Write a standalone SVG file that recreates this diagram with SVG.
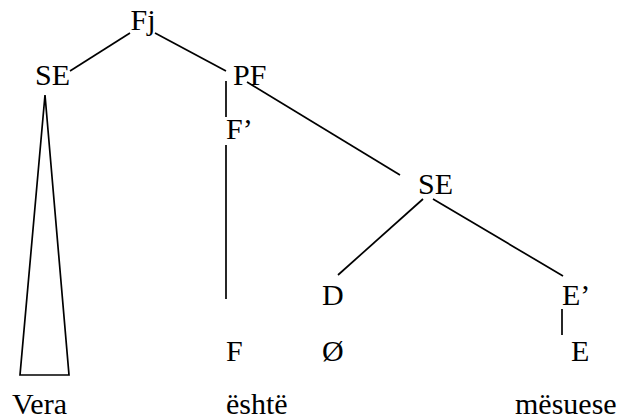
<svg xmlns="http://www.w3.org/2000/svg" width="622" height="419" viewBox="0 0 622 419">
<style>
text{font-family:'Liberation Serif','Times New Roman','DejaVu Serif',serif;font-size:30px;fill:#000}
.e{stroke:#000;stroke-width:1.7;fill:none}
</style>
<rect width="622" height="419" fill="#fff"/>
<g id="connectors">
<line class="e" x1="130" y1="33" x2="70" y2="71"/>
<line class="e" x1="155" y1="33" x2="226" y2="71"/>
<line class="e" x1="226" y1="81" x2="226" y2="117"/>
<line class="e" x1="226" y1="145" x2="226" y2="299"/>
<line class="e" x1="247" y1="82" x2="400" y2="175"/>
<line class="e" x1="423" y1="199" x2="338" y2="275"/>
<line class="e" x1="433" y1="199" x2="563" y2="276"/>
<line class="e" x1="562" y1="309" x2="562" y2="335"/>
<polygon class="e" points="45,95 20,375 69,375"/>
</g>
<g id="n-Fj"><text x="130.5" y="30" font-family="Liberation Serif">Fj</text></g>
<g id="n-SE1"><text x="35" y="85" font-family="Liberation Serif">SE</text></g>
<g id="n-PF"><text x="233" y="85" font-family="Liberation Serif">PF</text></g>
<g id="n-Fbar"><text x="226" y="139" font-family="Liberation Serif">F’</text></g>
<g id="n-SE2"><text x="418" y="194" font-family="Liberation Serif">SE</text></g>
<g id="n-D"><text x="322" y="305" font-family="Liberation Serif">D</text></g>
<g id="n-Ebar"><text x="562" y="305" font-family="Liberation Serif">E’</text></g>
<g id="n-F"><text x="226" y="361" font-family="Liberation Serif">F</text></g>
<g id="n-null"><text x="322" y="361" font-family="Liberation Serif">Ø</text></g>
<g id="n-E"><text x="571" y="361" font-family="Liberation Serif">E</text></g>
<g id="w-Vera"><text x="12" y="414" font-family="Liberation Serif">Vera</text></g>
<g id="w-eshte"><text x="226" y="414" font-family="Liberation Serif">është</text></g>
<g id="w-mesuese"><text x="515" y="414" font-family="Liberation Serif">mësuese</text></g>
</svg>
